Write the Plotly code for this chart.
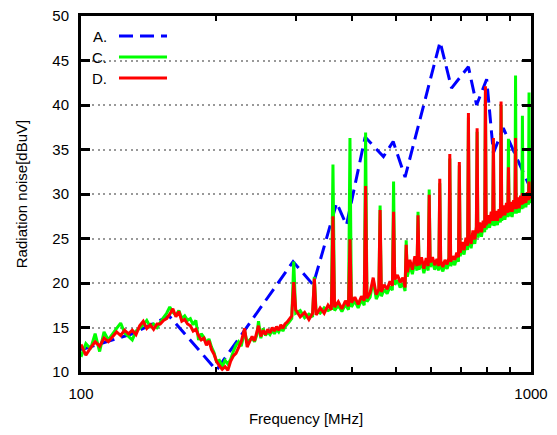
import plotly.graph_objects as go

# ---------------- data ----------------
freq_A = [100, 130, 157, 200, 296, 328, 370, 389, 428, 470, 494, 525, 628, 666,
          726, 757, 797, 825, 868, 978, 1000]
val_A = [12.5, 14.3, 16.3, 10.2, 22.4, 19.8, 29.0, 26.5, 36.4, 34.2, 35.9, 31.9,
         47.1, 41.9, 44.3, 40.0, 42.9, 34.6, 37.4, 31.6, 30.5]

freq_CD = [
    100, 102.5, 105, 107.5, 110, 112.5, 115, 117.5, 120, 122.5, 125, 127.5, 130,
    132.5, 135, 137.5, 140, 142.5, 145, 147.5, 150, 152.5, 155, 157.5, 160, 162.5,
    165, 167.5, 170, 172.5, 175, 177.5, 180, 182.5, 185, 187.5, 190, 192.5, 195,
    197.5, 200,
    203, 206, 209, 212, 215, 218, 221, 224, 227, 231, 234, 237, 240, 243, 246, 248,
    251, 254, 257, 260, 263, 266, 269, 272, 275, 278, 281, 284, 287, 290, 294,
    297, 300, 307, 314, 321, 327,
    330, 333, 340, 347, 354, 360,
    363, 366, 373, 380, 387, 393,
    396, 399, 406, 413, 420, 426,
    429, 432, 439, 446, 453, 459,
    462, 465, 472, 479, 486, 492,
    495, 498, 505, 512, 519, 525,
    528, 531, 538, 545, 552, 558,
    561, 564, 571, 578, 585, 591,
    594, 597, 604, 611, 618, 624,
    627, 630, 637, 644, 651, 657,
    660, 663, 670, 677, 684, 690,
    693, 696, 703, 710, 717, 723,
    726, 729, 736, 743, 750, 756,
    759, 762, 769, 776, 783, 789,
    792, 795, 802, 809, 816, 822,
    825, 828, 835, 842, 849, 855,
    858, 861, 868, 875, 882, 888,
    891, 894, 901, 908, 915, 921,
    924, 927, 934, 941, 948, 954,
    957, 960, 967, 974, 981, 987,
    990, 993, 1000,
]

val_C = [
    11.7, 13.2, 12.6, 14.3, 12.3, 14.5, 13.6, 14.2, 14.9, 15.5, 14.4, 14.0, 13.6,
    14.6, 14.9, 15.3, 15.8, 15.1, 15.4, 15.0, 15.6, 16.1, 16.6, 17.3, 16.7, 16.4,
    16.9, 16.0, 16.3, 15.8, 16.0, 15.3, 15.8, 13.6, 14.3, 13.9, 13.3, 13.7, 12.8,
    12.2, 11.2,
    11.3, 10.6, 11.3, 10.9, 11.4, 12.3, 13.0, 13.4, 12.9, 14.6, 13.3, 13.6, 13.8,
    13.4, 14.2, 15.7, 13.8, 14.9, 14.1, 14.5, 14.2, 14.7, 14.3, 14.8, 14.5, 15.0,
    14.6, 15.1, 15.3, 15.6, 16.0,
    22.4, 16.6, 16.9, 16.1, 16.5, 16.2,
    20.7, 16.8, 16.6, 17.2, 16.9, 17.1,
    33.3, 16.9, 17.5, 16.8, 17.6, 17.0,
    36.3, 17.3, 18.0, 17.2, 18.1, 17.5,
    36.9, 17.9, 18.4, 20.3, 18.2, 18.8,
    28.7, 18.5, 19.3, 18.8, 19.6, 19.2,
    31.4, 19.8, 20.3, 19.5, 20.0, 19.1,
    24.8, 20.7, 22.0, 21.0, 22.4, 21.4,
    28.0, 21.5, 22.4, 21.1, 22.3, 21.4,
    30.5, 21.8, 22.4, 21.5, 22.2, 21.4,
    31.2, 22.0, 21.3, 22.1, 21.6, 22.3,
    34.0, 21.9, 22.5, 22.0, 22.9, 22.4,
    33.2, 23.0, 24.0, 23.2, 24.6, 23.7,
    38.6, 24.9, 23.9, 25.3, 24.4, 25.7,
    37.0, 25.1, 26.2, 25.2, 26.5, 25.7,
    41.5, 26.0, 27.1, 26.2, 27.4, 26.5,
    35.8, 26.4, 27.5, 26.5, 27.8, 26.8,
    40.0, 27.0, 28.1, 27.1, 28.4, 27.4,
    36.2, 27.5, 28.5, 27.4, 28.8, 27.8,
    43.3, 27.8, 29.0, 27.9, 29.3, 28.3,
    38.8, 28.4, 29.4, 28.5, 29.7, 28.8,
    41.4, 29.0, 29.7,
]

val_D = [
    13.1, 11.9, 12.7, 13.4, 12.9, 13.8, 13.4, 14.0, 14.5, 14.1, 14.7, 14.3, 14.7,
    14.2, 15.2, 15.7, 14.9, 15.3, 14.8, 15.4, 15.4, 15.8, 16.0, 16.5, 17.1, 16.2,
    16.8, 15.7, 15.9, 15.4, 15.2, 14.6, 14.8, 14.1, 13.6, 13.8, 13.0, 13.5, 12.5,
    12.0, 11.2,
    10.7, 10.3, 10.6, 10.2, 11.2, 11.8, 12.1, 12.8, 13.4, 14.9, 12.8, 13.4, 14.0,
    13.5, 14.5, 15.2, 14.0, 14.7, 14.2, 14.8, 14.4, 15.0, 14.6, 15.1, 14.7, 15.3,
    14.9, 15.4, 15.6, 15.9, 16.3,
    20.1, 17.0, 16.2, 16.7, 15.9, 16.6,
    20.5, 16.4, 17.2, 16.6, 17.5, 17.0,
    27.5, 17.3, 17.9, 17.1, 18.0, 17.4,
    24.9, 17.8, 18.4, 17.6, 18.5, 18.0,
    30.9, 18.3, 18.9, 20.6, 18.7, 19.3,
    28.2, 19.0, 19.8, 19.3, 20.2, 19.7,
    28.0, 20.4, 20.9, 20.1, 20.6, 19.5,
    24.3, 21.2, 22.6, 21.5, 23.0, 21.9,
    27.6, 22.0, 22.9, 21.6, 22.8, 21.9,
    29.9, 22.3, 22.9, 22.0, 22.7, 21.9,
    31.7, 22.5, 21.8, 22.6, 22.1, 22.8,
    34.5, 22.4, 23.0, 22.6, 23.4, 22.9,
    33.6, 23.4, 24.6, 23.7, 25.1, 24.2,
    39.1, 25.4, 24.4, 25.9, 24.9, 26.3,
    37.4, 25.6, 26.8, 25.7, 27.0, 26.2,
    42.1, 26.5, 27.6, 26.7, 28.0, 27.0,
    36.3, 27.0, 28.1, 27.0, 28.3, 27.3,
    40.4, 27.5, 28.7, 27.6, 29.0, 27.9,
    33.0, 28.0, 29.1, 28.0, 29.3, 28.3,
    36.3, 28.3, 29.6, 28.4, 29.8, 28.8,
    30.1, 28.9, 30.0, 29.0, 30.2, 29.3,
    31.4, 29.5, 30.2,
]

series_names = ["A.", "C.", "D."]
x_tickvals = [100, 200, 300, 400, 500, 600, 700, 800, 900, 1000]
x_ticktext = ["100", "", "", "", "", "", "", "", "", "1000"]
y_tickvals = [10, 15, 20, 25, 30, 35, 40, 45, 50]

# ---------------- figure ----------------
FONT = "Liberation Sans, Arial, sans-serif"
BLUE, GREEN, RED = "#0000ff", "#00ff00", "#ff0000"

fig = go.Figure()
fig.add_trace(go.Scatter(x=freq_A, y=val_A, mode="lines", name=series_names[0],
                         line=dict(color=BLUE, width=3, dash="14px,7px")))
fig.add_trace(go.Scatter(x=freq_CD, y=val_C, mode="lines", name=series_names[1],
                         line=dict(color=GREEN, width=3)))
fig.add_trace(go.Scatter(x=freq_CD, y=val_D, mode="lines", name=series_names[2],
                         line=dict(color=RED, width=3)))

# page body adds an 8px offset; figure sized to fit the window
OFF = 8
W, H = 541, 419
L, T = 81 - OFF, 16 - OFF
pw, ph = 450, 356
R, B = W - L - pw, H - T - ph


def px(x):
    return (x - OFF - L) / pw


def py(y):
    return (T + ph - (y - OFF)) / ph


shapes = [dict(type="rect", xref="paper", yref="paper", layer="between",
               x0=px(84), x1=px(176), y0=py(92), y1=py(21),
               fillcolor="white", line=dict(width=0))]
annotations = []
legend_y = [36, 57, 78]
legend_dash = ["14px,7px", "solid", "solid"]
legend_col = [BLUE, GREEN, RED]
for name, yy, dsh, col in zip(series_names, legend_y, legend_dash, legend_col):
    annotations.append(dict(text=name, xref="paper", yref="paper", x=px(109), y=py(yy),
                            xanchor="right", yanchor="middle", showarrow=False,
                            font=dict(family=FONT, size=15, color="black")))
    shapes.append(dict(type="line", xref="paper", yref="paper", layer="above",
                       x0=px(119), x1=px(167), y0=py(yy), y1=py(yy),
                       line=dict(color=col, width=3, dash=dsh)))

fig.update_layout(
    width=W, height=H,
    margin=dict(l=L, r=R, t=T, b=B, autoexpand=False),
    paper_bgcolor="white", plot_bgcolor="white",
    showlegend=False,
    font=dict(family=FONT, size=15, color="black"),
    shapes=shapes, annotations=annotations,
)
fig.update_xaxes(
    type="log", range=[2, 3],
    tickmode="array", tickvals=x_tickvals, ticktext=x_ticktext,
    ticks="inside", ticklen=5, tickwidth=2, tickcolor="black",
    showline=True, linewidth=3, linecolor="black", mirror="ticks",
    showgrid=False, zeroline=False,
    ticklabelstandoff=6, ticklabeloverflow="allow",
    title=dict(text="Frequency [MHz]", standoff=23, font=dict(size=15)),
    tickfont=dict(size=15),
)
fig.update_yaxes(
    range=[10, 50], tickmode="array", tickvals=y_tickvals,
    ticks="inside", ticklen=9, tickwidth=3, tickcolor="black",
    showline=True, linewidth=3, linecolor="black", mirror="ticks",
    showgrid=True, gridcolor="#999999", gridwidth=2, griddash="2px,3.5px",
    zeroline=False,
    ticklabelstandoff=6, ticklabeloverflow="allow",
    title=dict(text="Radiation noise[dBuV]", standoff=22, font=dict(size=15)),
    tickfont=dict(size=15),
)

fig.write_html("out.html")
